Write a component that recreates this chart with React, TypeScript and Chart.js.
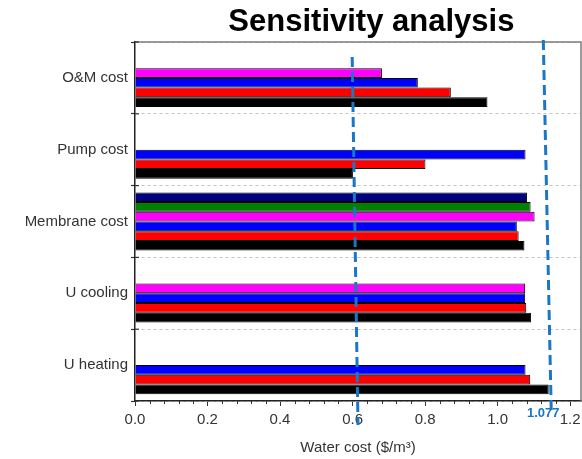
import React, { useEffect, useRef } from "react";
import { Chart, registerables } from "chart.js";

Chart.register(...registerables);

// ---- data ----
const categories = ["O&M cost", "Pump cost", "Membrane cost", "U cooling", "U heating"];
const seriesNames = ["Case 6", "Case 5", "Case 4", "Case 3", "Case 2", "Case 1"];
const navyValues = [null, null, 1.081, null, null];
const greenValues = [null, null, 1.091, null, null];
const magentaValues = [0.681, null, 1.102, 1.076, null];
const blueValues = [0.78, 1.077, 1.053, 1.076, 1.077];
const redValues = [0.871, 0.801, 1.058, 1.079, 1.09];
const blackValues = [0.972, 0.601, 1.074, 1.092, 1.141];
const seriesColors = ["#000080", "#008000", "#ff00ff", "#0000ff", "#ff0000", "#000000"];

const xMin = 0;
const xMax = 1.23;
const xMajorStep = 0.2;
const xMinorStep = 0.04;

// dashed reference lines (value at top end, value at bottom end)
const refLineTopValues = [0.599, 1.126];
const refLineBottomValues = [0.615, 1.148];
const refLabel = "1.077";

const titleText = "Sensitivity analysis";
const xAxisTitle = "Water cost ($/m\u00B3)";

const FONT = "'Liberation Sans', Arial, Helvetica, sans-serif";
const REF_COLOR = "#1a76c6";

const decorPlugin = {
  id: "decor",
  afterDatasetsDraw(chart: any) {
    const { ctx, chartArea: a, scales } = chart;
    const x = scales.x;
    const y = scales.y;
    ctx.save();
    // frame (top & right)
    ctx.strokeStyle = "#7c7c7c";
    ctx.lineWidth = 1.5;
    ctx.beginPath();
    ctx.moveTo(a.left, a.top);
    ctx.lineTo(a.right, a.top);
    ctx.lineTo(a.right, a.bottom);
    ctx.stroke();

    // minor x ticks
    ctx.strokeStyle = "#333";
    ctx.lineWidth = 1;
    const nMinor = Math.floor(xMax / xMinorStep + 1e-9);
    for (let i = 1; i <= nMinor; i++) {
      const v = i * xMinorStep;
      const r = v / xMajorStep;
      if (Math.abs(r - Math.round(r)) < 1e-6) continue;
      const px = Math.round(x.getPixelForValue(v)) + 0.5;
      ctx.beginPath();
      ctx.moveTo(px, a.bottom);
      ctx.lineTo(px, a.bottom + 3);
      ctx.stroke();
    }
    // inner y ticks at band boundaries
    ctx.lineWidth = 1.2;
    for (let i = 0; i <= categories.length; i++) {
      const py = y.getPixelForValue(i - 0.5);
      ctx.beginPath();
      ctx.moveTo(a.left, py);
      ctx.lineTo(a.left + 4, py);
      ctx.stroke();
    }

    // dashed reference lines
    ctx.strokeStyle = REF_COLOR;
    ctx.lineWidth = 3;
    ctx.setLineDash([10, 5]);
    const topOffsets = [15, -2];
    const bottomOffsets = [24, 11];
    for (let i = 0; i < refLineTopValues.length; i++) {
      ctx.beginPath();
      ctx.moveTo(x.getPixelForValue(refLineTopValues[i]), a.top + topOffsets[i]);
      ctx.lineTo(x.getPixelForValue(refLineBottomValues[i]), a.bottom + bottomOffsets[i]);
      ctx.stroke();
    }
    ctx.restore();
  },
  afterDraw(chart: any) {
    const { ctx, chartArea: a, scales } = chart;
    const x = scales.x;
    ctx.save();
    ctx.fillStyle = REF_COLOR;
    ctx.font = `bold 13px ${FONT}`;
    ctx.textAlign = "center";
    ctx.textBaseline = "middle";
    ctx.fillText(refLabel, x.getPixelForValue(refLineTopValues[1]), a.bottom + 12);

    ctx.fillStyle = "#000";
    ctx.font = `bold 31px ${FONT}`;
    ctx.fillText(titleText, a.left + (a.right - a.left) * 0.53, 22);
    ctx.restore();
  },
};

export default function App() {
  const ref = useRef<HTMLCanvasElement | null>(null);
  useEffect(() => {
    if (!ref.current) return;
    const all = [navyValues, greenValues, magentaValues, blueValues, redValues, blackValues];
    const chart = new Chart(ref.current, {
      type: "bar",
      data: {
        labels: categories,
        datasets: all.map((vals, i) => ({
          label: seriesNames[i],
          data: vals as any,
          backgroundColor: seriesColors[i],
          borderColor: "#000",
          borderWidth: 1,
          categoryPercentage: 0.81,
          barPercentage: 1,
        })),
      },
      options: {
        indexAxis: "y",
        animation: false,
        responsive: false,
        layout: { padding: { top: 42, right: 1, left: 0, bottom: 0 } },
        plugins: {
          legend: { display: false },
          title: { display: false },
          tooltip: { enabled: false },
        },
        scales: {
          x: {
            type: "linear",
            min: xMin,
            max: xMax,
            afterFit: (s: any) => {
              s.height = 58;
              s.paddingLeft = 0;
              s.paddingRight = 0;
            },
            ticks: {
              stepSize: xMajorStep,
              includeBounds: false,
              padding: 5,
              color: "#333",
              font: { family: FONT, size: 15 },
              callback: (v: any) => Number(v).toFixed(1),
            },
            grid: {
              drawOnChartArea: false,
              drawTicks: true,
              tickLength: 5,
              tickColor: "#333",
              tickWidth: 1,
            },
            border: { display: true, color: "#222", width: 1.5 },
            title: {
              display: true,
              text: xAxisTitle,
              color: "#333",
              font: { family: FONT, size: 15 },
              padding: { top: 2, bottom: 2 },
            },
          },
          y: {
            type: "category",
            afterFit: (s: any) => {
              s.width = 135;
            },
            ticks: {
              padding: 3,
              color: "#333",
              font: { family: FONT, size: 15 },
            },
            grid: {
              offset: true,
              color: "#c4c4c4",
              lineWidth: 1,
              drawTicks: true,
              tickLength: 4,
              tickColor: "#333",
              tickWidth: 1.2,
              tickBorderDash: [],
            },
            border: { display: true, color: "#222", width: 1.5, dash: [3, 3] },
          },
        },
      } as any,
      plugins: [decorPlugin],
    });
    return () => chart.destroy();
  }, []);

  return (
    <div style={{ position: "absolute", left: 0, top: 0, width: 582, height: 459 }}>
      <canvas ref={ref} width={582} height={459} />
    </div>
  );
}
